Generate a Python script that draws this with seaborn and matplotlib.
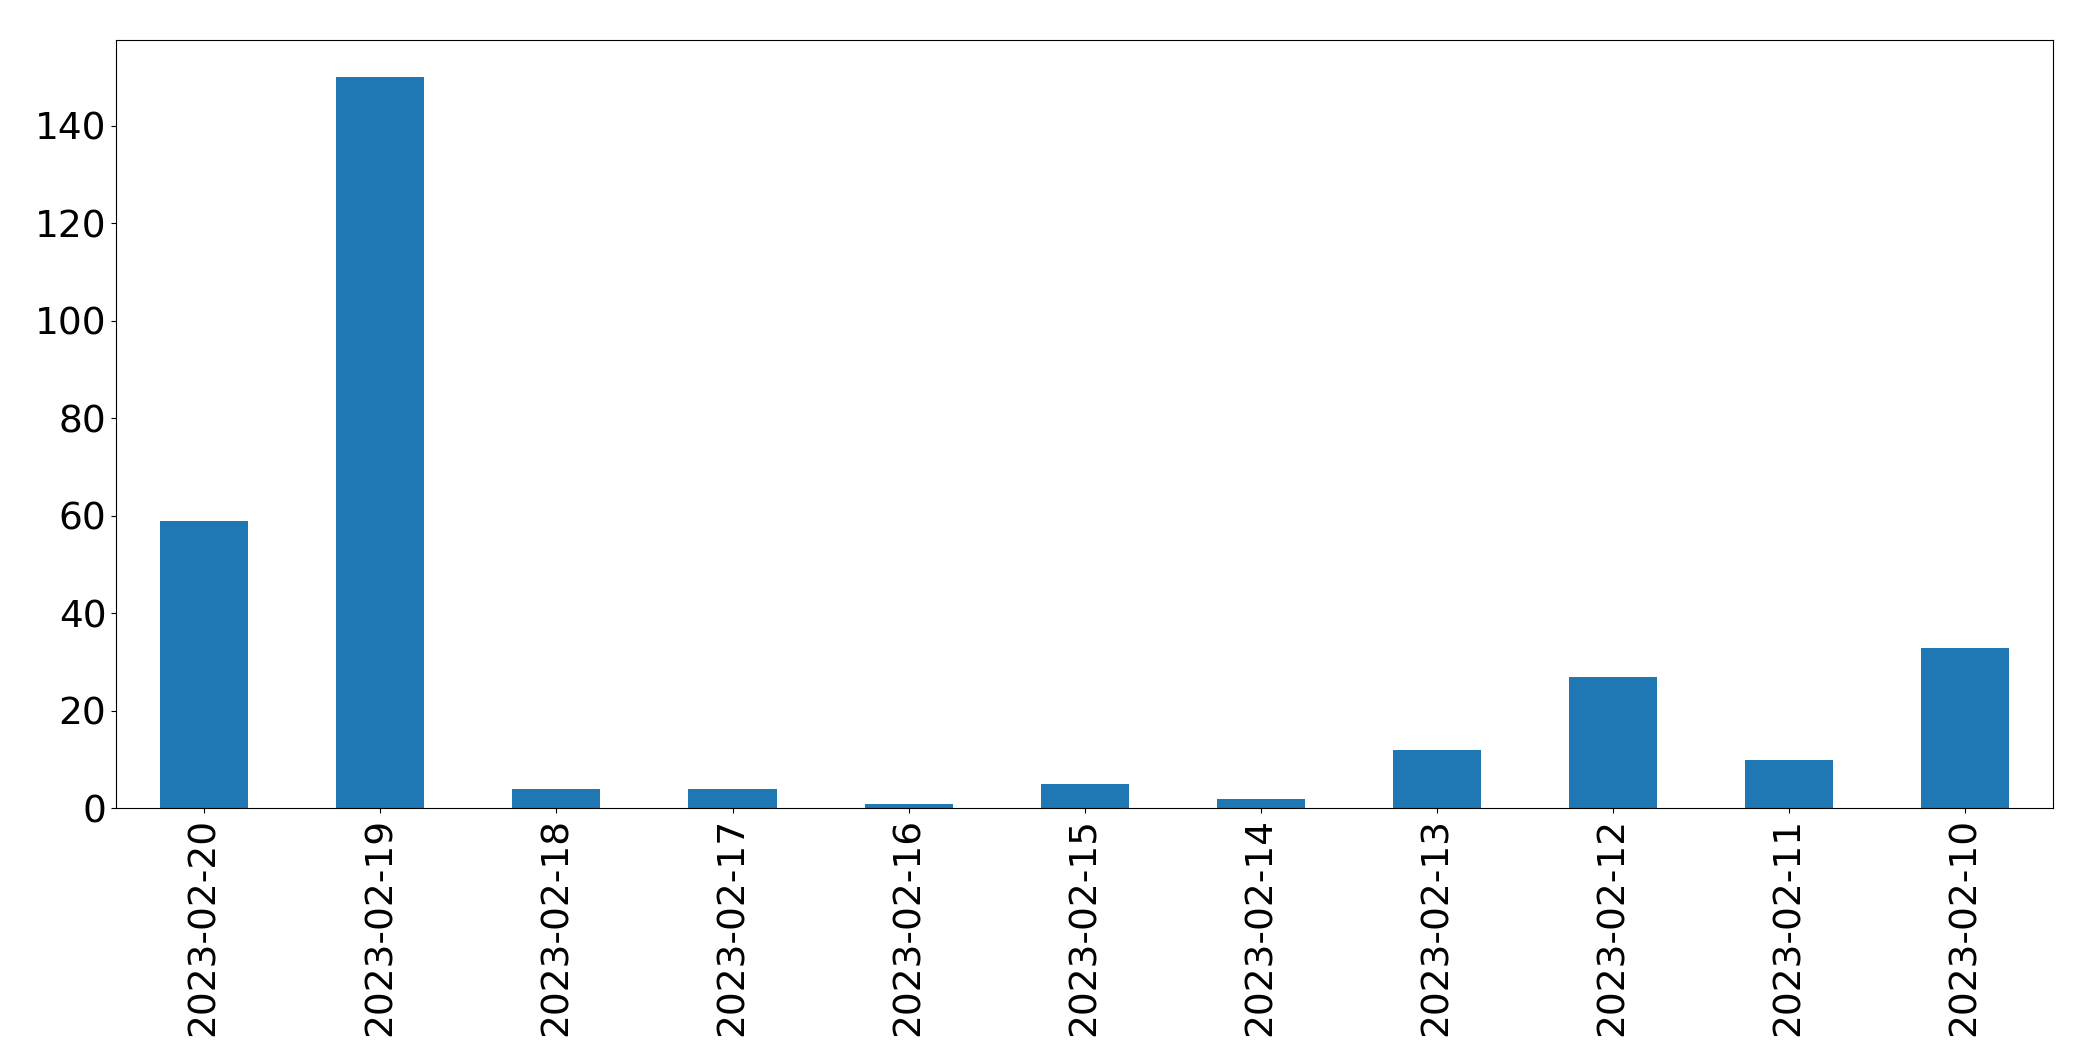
import matplotlib
matplotlib.use("Agg")
import matplotlib.pyplot as plt
import seaborn as sns
import pandas as pd

# data
dates = ["2023-02-20", "2023-02-19", "2023-02-18", "2023-02-17", "2023-02-16",
         "2023-02-15", "2023-02-14", "2023-02-13", "2023-02-12", "2023-02-11",
         "2023-02-10"]
counts = [59, 150, 4, 4, 1, 5, 2, 12, 27, 10, 33]

df = pd.DataFrame({"date": dates, "count": counts})

fig, ax = plt.subplots(figsize=(20.93, 10.61), dpi=100)
sns.barplot(data=df, x="date", y="count", ax=ax, color="#1f77b4",
            saturation=1, width=0.5, order=dates)

ax.set_xlabel("")
ax.set_ylabel("")
ax.set_ylim(0, 157.5)
ax.tick_params(axis="x", labelrotation=90, labelsize=27)
ax.tick_params(axis="y", labelsize=27)

plt.subplots_adjust(left=0.0555, right=0.981, top=0.962, bottom=0.238)
plt.savefig("out.png", dpi=100)
